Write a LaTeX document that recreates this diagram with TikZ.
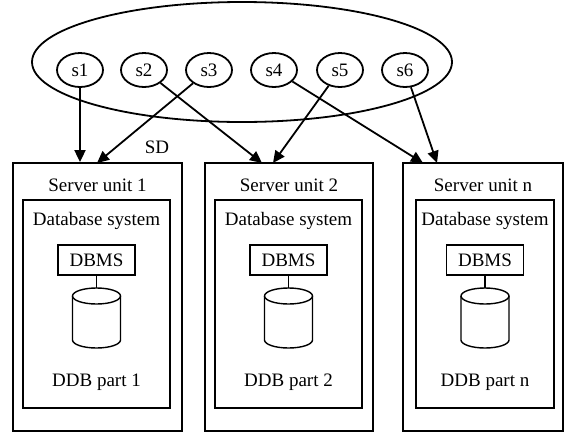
\documentclass[tikz,border=0pt]{standalone}
\usepackage{fontspec}
\setmainfont{Liberation Serif}
\usetikzlibrary{shapes.geometric,arrows.meta}

\begin{document}
\begin{tikzpicture}[x=1pt,y=-1pt,line width=1.8pt,
	font=\fontsize{19}{22}\selectfont,
	site/.style={draw,ellipse,inner sep=0pt,minimum width=46pt,minimum height=34pt},
	box/.style={draw,rectangle,inner sep=0pt},
	flow/.style={-{Triangle[length=12pt,width=11pt]}}]
	\useasboundingbox (0,0) rectangle (565,432);

	% the distributed database and its sites
	\node[draw,ellipse,minimum width=420pt,minimum height=120pt] (sd) at (242,62) {};
	\foreach \i/\x in {1/80,2/144,3/209,4/274,5/340,6/405} {
		\node[site] (s\i) at (\x,70) {s\i};
	}
	\node (sdlabel) at (157,147) {SD};

	% server units
	\foreach \k/\cx/\w/\ix/\iw in {1/97.5/169/96.5/147, 2/289/168/288.5/147, n/483/160/485/138} {
		\node[box,minimum width=\w,minimum height=268] (srv\k) at (\cx,297) {};
		\node (srvlabel\k) at (\cx,185) {Server unit \k};
		\node[box,minimum width=\iw,minimum height=208] (dbs\k) at (\ix,304) {};
		\node (dbslabel\k) at (\ix,221) {Database system};
		\node[box,minimum width=77,minimum height=30] (dbms\k) at (\ix,260) {DBMS};
		% disk
		\coordinate (ddb\k) at (\ix,288);
		\draw[line width=1.4pt] (\ix-24,296) -- (\ix-24,340) arc[start angle=180,end angle=0,x radius=24,y radius=8] -- (\ix+24,296);
		\draw[line width=1.4pt] (\ix,296) ellipse [x radius=24,y radius=8];
		\node (ddblabel\k) at (\ix,382) {DDB part \k};
		\draw (dbms\k) -- (ddb\k);
	}

	% where the arrows land on the server units
	\coordinate (in3) at (97,163);
	\coordinate (in2) at (262,163);
	\coordinate (in5) at (273,163);
	\coordinate (in4) at (423,163);
	\coordinate (in6) at (437,163);

	\draw[flow] (s1) -- (s1 |- srv1.north);
	\draw[flow] (s3) -- (in3);
	\draw[flow] (s2) -- (in2);
	\draw[flow] (s5) -- (in5);
	\draw[flow] (s4) -- (in4);
	\draw[flow] (s6) -- (in6);
\end{tikzpicture}
\end{document}
